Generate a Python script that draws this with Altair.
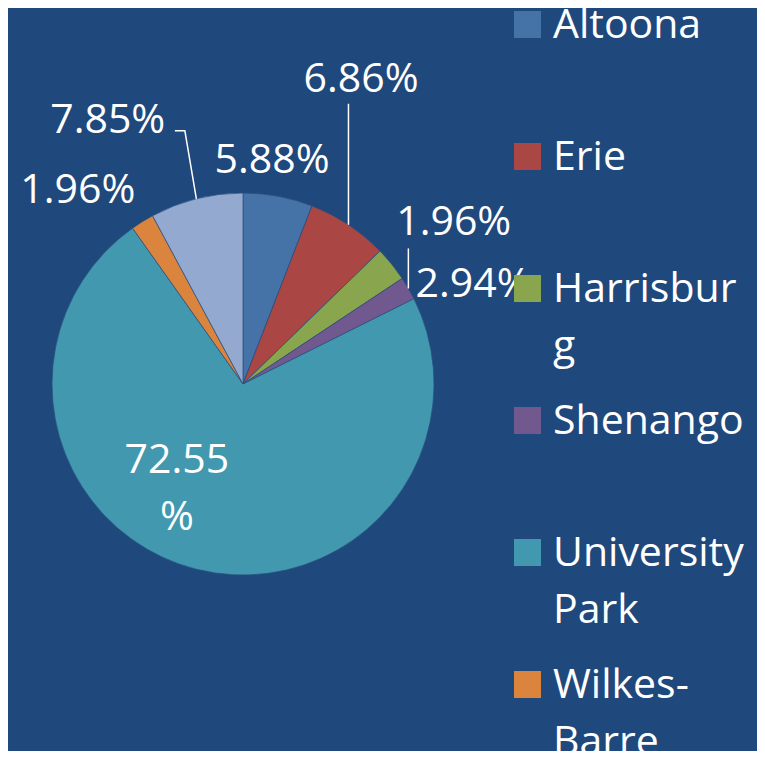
import math
import altair as alt
import pandas as pd

# ---------------- data ----------------
CATEGORIES = ["Altoona", "Erie", "Harrisburg", "Shenango", "University Park", "Wilkes-Barre", "Other"]
VALUES = [5.88, 6.86, 2.94, 1.96, 72.55, 1.96, 7.85]
LABEL_TEXT = ["5.88%", "6.86%", "2.94%", "1.96%", "72.55\n%", "1.96%", "7.85%"]
COLORS = ["#4572A7", "#AA4643", "#89A54E", "#71588F", "#4198AF", "#DB843D", "#93A9CF"]
LEGEND_NAMES = ["Altoona", "Erie", "Harrisbur\ng", "Shenango", "University\nPark", "Wilkes-\nBarre"]

# ---------------- layout ----------------
BG = "#1F487C"
MARGIN = 8
W, H = 765 - 2 * MARGIN, 759 - 2 * MARGIN
CX, CY = 243 - MARGIN, 384 - MARGIN
R = 191
FONT = "Open Sans"
FS = 41
# label placement (radius from centre, angular nudge from slice mid-angle, degrees)
LABEL_R = [213, 315, 246, 258, 111, 245, 285]
LABEL_DTHETA = [-2.75, -11.5, 18.1, -5.2, 22.5, -10.6, -14.2]
# leader lines: slice index -> list of offsets (px) from the rim point at the mid angle
LEADERS = {1: [(0, -121)], 3: [(0, -40)], 6: [(-11.5, -68), (-21.5, -68)]}
LEG_SQ_X = 527.5 - MARGIN
LEG_TX_X = 553 - MARGIN
LEG_BASE0 = 38 - MARGIN
LEG_STEP = 132

total = sum(VALUES)
mids = []
acc = 0.0
for v in VALUES:
    mids.append((acc + v / 2) / total * 360.0)
    acc += v

pie_df = pd.DataFrame({"cat": CATEGORIES, "value": VALUES, "idx": list(range(len(VALUES)))})

lab_rows = []
for i, (t, m) in enumerate(zip(LABEL_TEXT, mids)):
    a = math.radians(m + LABEL_DTHETA[i])
    lab_rows.append({"text": t,
                     "x": CX + LABEL_R[i] * math.sin(a),
                     "y": CY - LABEL_R[i] * math.cos(a)})
lab_df = pd.DataFrame(lab_rows)

lead_rows = []
for i, pts in LEADERS.items():
    a = math.radians(mids[i])
    x0 = CX + R * math.sin(a)
    y0 = CY - R * math.cos(a)
    lead_rows.append({"lid": i, "o": 0, "x": x0, "y": y0})
    for k, (dx, dy) in enumerate(pts):
        lead_rows.append({"lid": i, "o": k + 1, "x": x0 + dx, "y": y0 + dy})
lead_df = pd.DataFrame(lead_rows)

leg_df = pd.DataFrame({
    "cat": CATEGORIES[:len(LEGEND_NAMES)],
    "name": LEGEND_NAMES,
    "base": [LEG_BASE0 + LEG_STEP * i for i in range(len(LEGEND_NAMES))],
})
leg_df["sq"] = leg_df["base"] - 13.5

color_scale = alt.Scale(domain=CATEGORIES, range=COLORS)

pie = alt.Chart(pie_df).mark_arc(radius=R, stroke="#2a4f7d", strokeWidth=0.7).encode(
    theta=alt.Theta("value:Q", stack=True),
    order=alt.Order("idx:Q"),
    color=alt.Color("cat:N", scale=color_scale, legend=None),
    x=alt.value(CX),
    y=alt.value(CY),
)

labels = alt.Chart(lab_df).mark_text(
    font=FONT, fontSize=FS, color="white", align="center", baseline="alphabetic",
    lineBreak="\n", lineHeight=57,
).encode(
    x=alt.X("x:Q", scale=None),
    y=alt.Y("y:Q", scale=None),
    text="text:N",
)

leaders = alt.Chart(lead_df).mark_line(color="white", strokeWidth=1.5).encode(
    x=alt.X("x:Q", scale=None),
    y=alt.Y("y:Q", scale=None),
    detail="lid:N",
    order="o:Q",
)

leg_sq = alt.Chart(leg_df).mark_square(size=27 * 27, opacity=1).encode(
    x=alt.value(LEG_SQ_X),
    y=alt.Y("sq:Q", scale=None),
    color=alt.Color("cat:N", scale=color_scale, legend=None),
)

leg_tx = alt.Chart(leg_df).mark_text(
    font=FONT, fontSize=FS, color="white", align="left", baseline="alphabetic",
    lineBreak="\n", lineHeight=57,
).encode(
    x=alt.value(LEG_TX_X),
    y=alt.Y("base:Q", scale=None),
    text="name:N",
)

chart = alt.layer(pie, leaders, labels, leg_sq, leg_tx).properties(
    width=W, height=H, background=BG, padding=0,
    autosize=alt.AutoSizeParams(type="none"),
).configure_view(stroke=None)

chart.save("out.html", embed_options={"renderer": "svg", "actions": False})
